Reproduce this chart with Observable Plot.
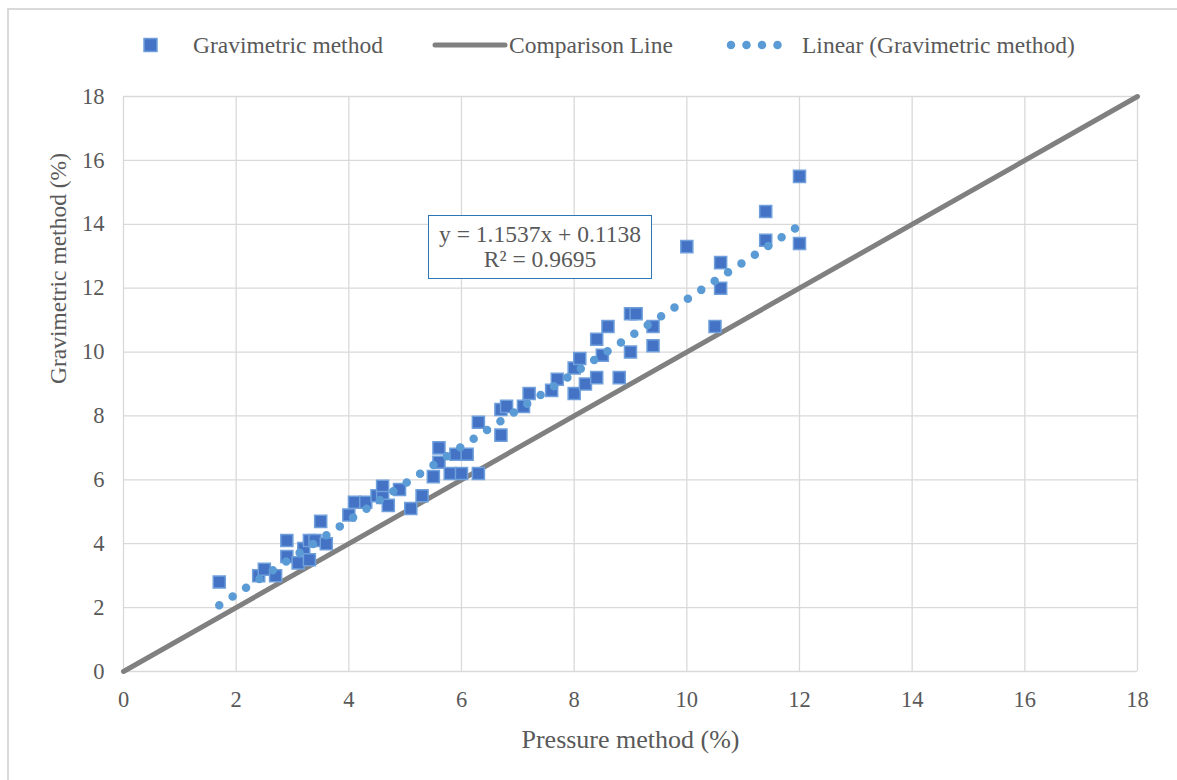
<!DOCTYPE html>
<html>
<head>
<meta charset="utf-8">
<script src="https://cdn.jsdelivr.net/npm/d3@7"></script>
<script src="https://cdn.jsdelivr.net/npm/@observablehq/plot@0.6"></script>
<style>
  html, body { margin: 0; padding: 0; background: #fff; overflow: hidden; }
  #wrap { position: relative; width: 1177px; height: 780px; overflow: hidden; background: #fff;
          font-family: "Liberation Serif", "Times New Roman", serif; color: #595959; }
  #border { position: absolute; left: 7px; top: 8px; width: 1300px; height: 900px;
            border: 2px solid #d9d9d9; box-sizing: border-box; pointer-events: none; }
  #legend { position: relative; height: 70px; }
  #legend .txt { position: absolute; top: 31px; line-height: 28px; font-size: 23.5px; white-space: nowrap; }
  #eq { position: absolute; left: 428px; top: 215px; width: 224px; height: 64px; box-sizing: border-box;
        border: 1.6px solid #2e75b6; background: #fff; text-align: center; font-size: 23.5px;
        line-height: 25px; padding-top: 6px; }
</style>
</head>
<body>
<div id="wrap">
  <div id="border"></div>
  <div id="legend">
    <svg width="1177" height="70" style="position:absolute;left:0;top:0">
      <rect x="144" y="38.5" width="13" height="13" fill="#4472c4" stroke="#6fa0dc" stroke-width="1.5"></rect>
      <line x1="435" y1="45" x2="505" y2="45" stroke="#808080" stroke-width="5" stroke-linecap="round"></line>
      <line x1="731" y1="45" x2="793" y2="45" stroke="#5b9bd5" stroke-width="8.5" stroke-linecap="round" stroke-dasharray="0 15.5"></line>
    </svg>
    <span class="txt" style="left:193px">Gravimetric method</span>
    <span class="txt" style="left:509px">Comparison Line</span>
    <span class="txt" style="left:802px">Linear (Gravimetric method)</span>
  </div>
  <div id="chart"></div>
  <div id="eq"></div>
</div>
<script>
// Paired moisture readings: pressure method vs gravimetric method (%)
const pressure = [1.7, 2.4, 2.5, 2.7, 2.9, 2.9, 3.1, 3.2, 3.3, 3.3, 3.4, 3.5, 3.6, 4.0, 4.1, 4.3, 4.5, 4.6, 4.6, 4.7,
  4.9, 5.1, 5.3, 5.5, 5.6, 5.6, 5.8, 5.9, 6.0, 6.1, 6.3, 6.3, 6.7, 6.7, 6.8, 7.1, 7.2, 7.6, 7.7, 8.0,
  8.0, 8.1, 8.2, 8.4, 8.4, 8.5, 8.6, 8.8, 9.0, 9.1, 9.0, 9.4, 9.4, 10.0, 10.5, 10.6, 10.6, 11.4, 11.4, 12.0, 12.0];
const gravimetric = [2.8, 3.0, 3.2, 3.0, 4.1, 3.6, 3.4, 3.85, 3.5, 4.1, 4.1, 4.7, 4.0, 4.9, 5.3, 5.3, 5.5, 5.8, 5.45, 5.2,
  5.7, 5.1, 5.5, 6.1, 7.0, 6.55, 6.2, 6.8, 6.2, 6.8, 6.2, 7.8, 7.4, 8.2, 8.3, 8.3, 8.7, 8.8, 9.15, 8.7,
  9.5, 9.8, 9.0, 9.2, 10.4, 9.9, 10.8, 9.2, 11.2, 11.2, 10.0, 10.8, 10.2, 13.3, 10.8, 12.8, 12.0, 14.4, 13.5, 15.5, 13.4];

// Linear trendline of the gravimetric series
const slope = 1.1537;
const intercept = 0.1138;
const rSquared = 0.9695;

// 1:1 comparison line and axis ticks
const comparisonX = [0, 18];
const xTicks = [0, 2, 4, 6, 8, 10, 12, 14, 16, 18];
const yTicks = [0, 2, 4, 6, 8, 10, 12, 14, 16, 18];

const points = pressure.map((p, i) => ({x: p, y: gravimetric[i]}));
const comparison = comparisonX.map(v => ({x: v, y: v}));
const trend = d3.extent(pressure).map(v => ({x: v, y: slope * v + intercept}));

const chart = Plot.plot({
  width: 1177,
  height: 710,
  marginLeft: 123,
  marginRight: 40,
  marginTop: 26,
  marginBottom: 109,
  style: {
    fontFamily: "'Liberation Serif', 'Times New Roman', serif",
    fontSize: "22.5px",
    color: "#595959",
    background: "transparent",
    overflow: "visible"
  },
  x: {domain: [0, 18], ticks: xTicks, tickSize: 0, tickPadding: 20, label: null},
  y: {domain: [0, 18], ticks: yTicks, tickSize: 0, tickPadding: 19, label: null},
  marks: [
    Plot.gridX(xTicks, {stroke: "#d9d9d9", strokeOpacity: 1, strokeWidth: 1.3}),
    Plot.gridY(yTicks, {stroke: "#d9d9d9", strokeOpacity: 1, strokeWidth: 1.3}),
    Plot.line(comparison, {x: "x", y: "y", stroke: "#808080", strokeWidth: 5}),
    Plot.dot(points, {x: "x", y: "y", symbol: "square", r: 6.8, fill: "#4472c4", stroke: "#6fa0dc", strokeWidth: 1.5}),
    Plot.line(trend, {x: "x", y: "y", stroke: "#5b9bd5", strokeWidth: 8.5, strokeLinecap: "round", strokeDasharray: "0 16"}),
    Plot.text(["Pressure method (%)"], {text: d => d, frameAnchor: "bottom", dy: 76, fontSize: 26, fill: "#595959"}),
    Plot.text(["Gravimetric method (%)"], {text: d => d, frameAnchor: "left", dx: -65, rotate: -90, fontSize: 23.5, fill: "#595959"})
  ]
});
document.getElementById("chart").appendChild(chart);

const eq = document.getElementById("eq");
eq.innerHTML = `y = ${slope.toFixed(4)}x + ${intercept.toFixed(4)}<br>R² = ${rSquared.toFixed(4)}`;
</script>
</body>
</html>
